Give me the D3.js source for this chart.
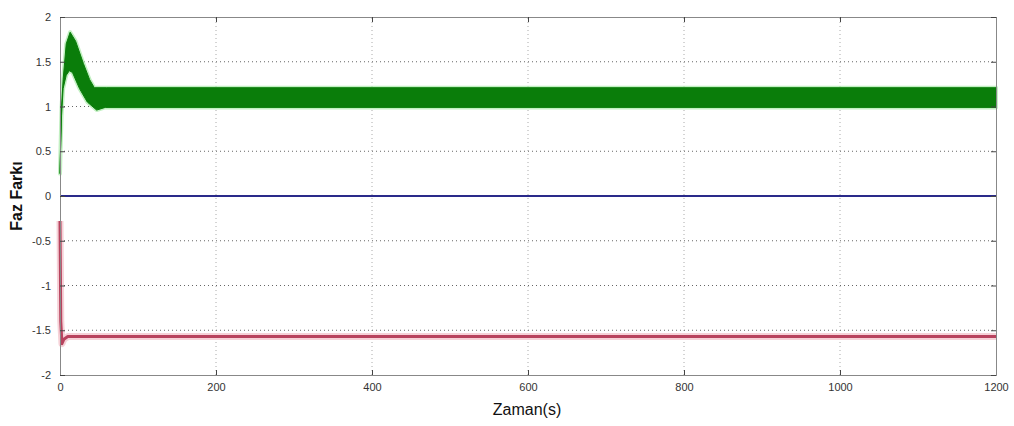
<!DOCTYPE html>
<html>
<head>
<meta charset="utf-8">
<script src="https://cdn.jsdelivr.net/npm/d3@7/dist/d3.min.js"></script>
<style>
  html, body { margin: 0; padding: 0; background: #fff; }
  svg { display: block; }
  .tick text { font-family: "Liberation Sans Narrow", "Liberation Sans", Arial, sans-serif; }
</style>
</head>
<body>
<svg id="chart" width="1014" height="426"></svg>
<script>
// Time axis ticks and value axis ticks
const xTicks = [0, 200, 400, 600, 800, 1000, 1200];
const yTicks = [-2, -1.5, -1, -0.5, 0, 0.5, 1, 1.5, 2];

// Green phase difference: oscillating signal, drawn as its envelope
const greenTime  = [0, 1, 2, 4, 8, 13, 20, 30, 38, 44, 60, 1200];
const greenUpper = [0.3, 0.65, 1.0, 1.3, 1.7, 1.83, 1.73, 1.48, 1.3, 1.21, 1.21, 1.21];
const greenLowT  = [0, 1, 2, 4, 8, 12, 16, 25, 35, 47, 58, 1200];
const greenLower = [0.25, 0.6, 0.9, 1.2, 1.35, 1.4, 1.38, 1.2, 1.05, 0.96, 0.99, 0.99];

// Blue phase difference
const blueTime  = [0, 1200];
const blueValue = [0, 0];

// Red phase difference
const redTime  = [0, 1, 2.5, 5, 10, 1200];
const redValue = [-0.28, -1.4, -1.65, -1.6, -1.57, -1.57];

const svg = d3.select("#chart");
const margin = { left: 60, right: 18, top: 17, bottom: 51 };
const W = 1014, H = 426;
const iw = W - margin.left - margin.right;
const ih = H - margin.top - margin.bottom;

const x = d3.scaleLinear().domain([0, 1200]).range([margin.left, margin.left + iw]);
const y = d3.scaleLinear().domain([-2, 2]).range([margin.top + ih, margin.top]);

const g = svg.append("g");

// Plot background
g.append("rect")
  .attr("x", x(0)).attr("y", y(2))
  .attr("width", iw).attr("height", ih)
  .attr("fill", "#fff");

// Dotted grid
g.append("g").selectAll("line.vg")
  .data(xTicks.slice(1, -1)).join("line")
  .attr("x1", d => x(d)).attr("x2", d => x(d))
  .attr("y1", y(-2)).attr("y2", y(2))
  .attr("stroke", "#aaa").attr("stroke-width", 1)
  .attr("stroke-dasharray", "1,3");
g.append("g").selectAll("line.hg")
  .data(yTicks.slice(1, -1)).join("line")
  .attr("x1", x(0)).attr("x2", x(1200))
  .attr("y1", d => y(d)).attr("y2", d => y(d))
  .attr("stroke", "#666").attr("stroke-width", 1)
  .attr("stroke-dasharray", "1,3");

// Green envelope area
const upperPts = greenTime.map((t, i) => [t, greenUpper[i]]);
const lowerPts = greenLowT.map((t, i) => [t, greenLower[i]]).reverse();
const poly = upperPts.concat(lowerPts);
const line = d3.line().x(d => x(d[0])).y(d => y(d[1]));
g.append("path")
  .attr("d", line(poly) + "Z")
  .attr("fill", "none")
  .attr("stroke", "#a8eaa8").attr("stroke-width", 4).attr("stroke-opacity", 0.7)
  .attr("stroke-linejoin", "round");
g.append("path")
  .attr("d", line(poly) + "Z")
  .attr("fill", "#0a7d0a")
  .attr("stroke", "#0a7d0a").attr("stroke-width", 1);

// Blue line
g.append("path")
  .datum(blueTime.map((t, i) => [t, blueValue[i]]))
  .attr("d", line)
  .attr("fill", "none").attr("stroke", "#2a2a8a").attr("stroke-width", 2);

// Red line with soft halo
const redPts = redTime.map((t, i) => [t, redValue[i]]);
g.append("path").datum(redPts).attr("d", line)
  .attr("fill", "none").attr("stroke", "#f6d2d8").attr("stroke-width", 7)
  .attr("stroke-linejoin", "round");
g.append("path").datum(redPts).attr("d", line)
  .attr("fill", "none").attr("stroke", "#b8435e").attr("stroke-width", 3)
  .attr("stroke-linejoin", "round");

// Axes (MATLAB-style inward ticks on all sides)
const axB = d3.axisBottom(x).tickValues(xTicks).tickSize(-5).tickPadding(8).tickFormat(d3.format("d"));
const axT = d3.axisTop(x).tickValues(xTicks).tickSize(-5).tickFormat("");
const axL = d3.axisLeft(y).tickValues(yTicks).tickSize(-5).tickPadding(9).tickFormat(d => String(d));
const axR = d3.axisRight(y).tickValues(yTicks).tickSize(-5).tickFormat("");

function style(sel) {
  sel.select(".domain").attr("stroke", "#888");
  sel.selectAll(".tick line").attr("stroke", "#444");
  sel.selectAll(".tick text").attr("fill", "#333").style("font-size", "11px");
}
svg.append("g").attr("transform", `translate(0,${y(-2)})`).call(axB).call(style);
svg.append("g").attr("transform", `translate(0,${y(2)})`).call(axT).call(style);
svg.append("g").attr("transform", `translate(${x(0)},0)`).call(axL).call(style);
svg.append("g").attr("transform", `translate(${x(1200)},0)`).call(axR).call(style);

// Axis titles
svg.append("text")
  .attr("x", 527).attr("y", 415)
  .attr("text-anchor", "middle")
  .style("font-family", "Liberation Sans, Arial, sans-serif")
  .style("font-size", "16px").attr("fill", "#111")
  .text("Zaman(s)");
svg.append("text")
  .attr("transform", `translate(22,${y(0)}) rotate(-90)`)
  .attr("text-anchor", "middle")
  .style("font-family", "Liberation Sans, Arial, sans-serif")
  .style("font-size", "16px").style("font-weight", "bold").attr("fill", "#111")
  .text("Faz Farkı");
</script>
</body>
</html>
